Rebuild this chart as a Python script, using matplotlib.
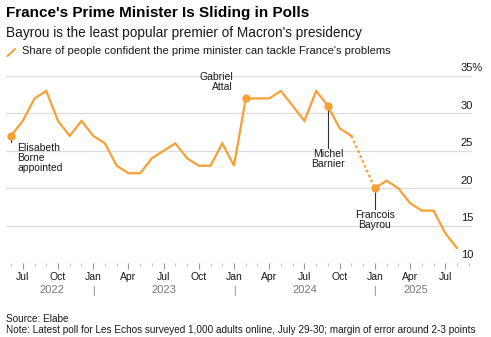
import matplotlib.pyplot as plt
from matplotlib.lines import Line2D
import matplotlib.transforms as mtransforms

plt.rcParams['font.family'] = ['Liberation Sans', 'DejaVu Sans']

# monthly Elabe polls, Jun 2022 - Aug 2025 (no poll in Dec 2024)
mois = ['2022-06', '2022-07', '2022-08', '2022-09', '2022-10', '2022-11', '2022-12',
        '2023-01', '2023-02', '2023-03', '2023-04', '2023-05', '2023-06', '2023-07',
        '2023-08', '2023-09', '2023-10', '2023-11', '2023-12',
        '2024-01', '2024-02', '2024-03', '2024-04', '2024-05', '2024-06', '2024-07',
        '2024-08', '2024-09', '2024-10', '2024-11',
        '2025-01', '2025-02', '2025-03', '2025-04', '2025-05', '2025-06', '2025-07',
        '2025-08']
persen = [27, 29, 32, 33, 29, 27, 29,
          27, 26, 23, 22, 22, 24, 25,
          26, 24, 23, 23, 26,
          23, 32, 32, 32, 33, 31, 29,
          33, 31, 28, 27,
          20, 21, 20, 18, 17, 17, 14,
          12]

# new prime ministers
pm_mois = ['2022-06', '2024-02', '2024-09', '2025-01']
pm_nama = ['Elisabeth\nBorne\nappointed', 'Gabriel\nAttal', 'Michel\nBarnier', 'Francois\nBayrou']

tick_label = ['Jul', 'Oct', 'Jan', 'Apr']
tahun = ['2022', '2023', '2024', '2025']
y_ticks = [10, 15, 20, 25, 30, 35]

OREN = '#f9a035'
TEKS = '#1a1a1a'
ABU = '#777777'


def idx(m):
    th, bl = m.split('-')
    return (int(th) - 2022) * 12 + int(bl) - 1


x = [idx(m) for m in mois]
putus = mois.index('2024-11') + 1

fig = plt.figure(figsize=(4.91, 3.37), dpi=100)
ax = fig.add_axes([6 / 491, 1 - 263 / 337, 466 / 491, 187 / 337])

ax.plot(x[:putus], persen[:putus], color=OREN, lw=1.6, solid_joinstyle='miter', zorder=3)
ax.plot(x[putus:], persen[putus:], color=OREN, lw=1.6, solid_joinstyle='miter', zorder=3)
ax.plot(x[putus - 1:putus + 1], persen[putus - 1:putus + 1], color=OREN, lw=1.6,
        ls=(0, (1.2, 1.2)), zorder=3)

px = [idx(m) for m in pm_mois]
py = [persen[mois.index(m)] for m in pm_mois]
ax.plot(px, py, 'o', color=OREN, ms=5, zorder=4)

# labels for each prime minister
ax.plot([px[0], px[0]], [py[0], py[0] - 0.8], color='#333333', lw=0.8, zorder=2)
ax.text(px[0] + 0.55, py[0] - 0.9, pm_nama[0], fontsize=7.5, color=TEKS, va='top',
        ha='left', linespacing=1.0)
ax.text(px[1] - 1.1, py[1] + 0.8, pm_nama[1], fontsize=7.5, color=TEKS, va='bottom',
        ha='right', linespacing=1.0)
ax.plot([px[2], px[2]], [py[2], py[2] - 5.6], color='#333333', lw=0.8, zorder=2)
ax.text(px[2], py[2] - 5.7, pm_nama[2], fontsize=7.5, color=TEKS, va='top',
        ha='center', linespacing=1.0)
ax.plot([px[3], px[3]], [py[3], py[3] - 2.8], color='#333333', lw=0.8, zorder=2)
ax.text(px[3], py[3] - 2.9, pm_nama[3], fontsize=7.5, color=TEKS, va='top',
        ha='center', linespacing=1.0)

ax.set_xlim(4.57, 44.28)
ax.set_ylim(10, 35)
for s in ax.spines.values():
    s.set_visible(False)

ax.set_yticks(y_ticks)
ax.tick_params(axis='y', length=0, labelleft=False)
ax.grid(axis='y', color='#dcdcdc', lw=0.9, zorder=0)

tr_y = mtransforms.blended_transform_factory(ax.transAxes, ax.transData)
for v in y_ticks:
    s = '35%' if v == 35 else str(v)
    ax.text(0.976, v + 0.35, s, transform=tr_y, fontsize=8, color=TEKS,
            ha='left', va='bottom')

mayor = list(range(6, 45, 3))
ax.set_xticks(mayor)
ax.set_xticklabels([tick_label[i % 4] for i in range(len(mayor))])
ax.set_xticks(list(range(5, 45)), minor=True)
ax.tick_params(axis='x', which='major', length=4, width=0.8, color='#999999',
               pad=2.5, labelsize=7.5, labelcolor=TEKS)
ax.tick_params(axis='x', which='minor', length=2, width=0.6, color='#bbbbbb')

tr_x = mtransforms.blended_transform_factory(ax.transData, ax.transAxes)
for th, pos in zip(tahun, [8.5, 18, 30, 39.5]):
    ax.text(pos, -0.145, th, transform=tr_x, fontsize=8, color=ABU, ha='center', va='center')
for pos in [12, 24, 36]:
    ax.text(pos, -0.15, '|', transform=tr_x, fontsize=7, color=ABU, ha='center', va='center')

fig.text(6 / 491, 1 - 17 / 337, "France's Prime Minister Is Sliding in Polls",
         fontsize=11, fontweight='bold', color='black', va='baseline')
fig.text(6 / 491, 1 - 37 / 337, "Bayrou is the least popular premier of Macron's presidency",
         fontsize=9.85, color=TEKS, va='baseline')
fig.add_artist(Line2D([7.5 / 491, 15 / 491], [1 - 56 / 337, 1 - 49 / 337], color=OREN, lw=1.4))
fig.text(22 / 491, 1 - 54 / 337,
         "Share of people confident the prime minister can tackle France's problems",
         fontsize=8, color=TEKS, va='baseline')

fig.text(6 / 491, 1 - 322 / 337, 'Source: Elabe', fontsize=7.2, color=TEKS, va='baseline')
fig.text(6 / 491, 1 - 333 / 337,
         'Note: Latest poll for Les Echos surveyed 1,000 adults online, July 29-30; '
         'margin of error around 2-3 points', fontsize=7.2, color=TEKS, va='baseline')

fig.savefig('out.png', dpi=100, facecolor='white')
